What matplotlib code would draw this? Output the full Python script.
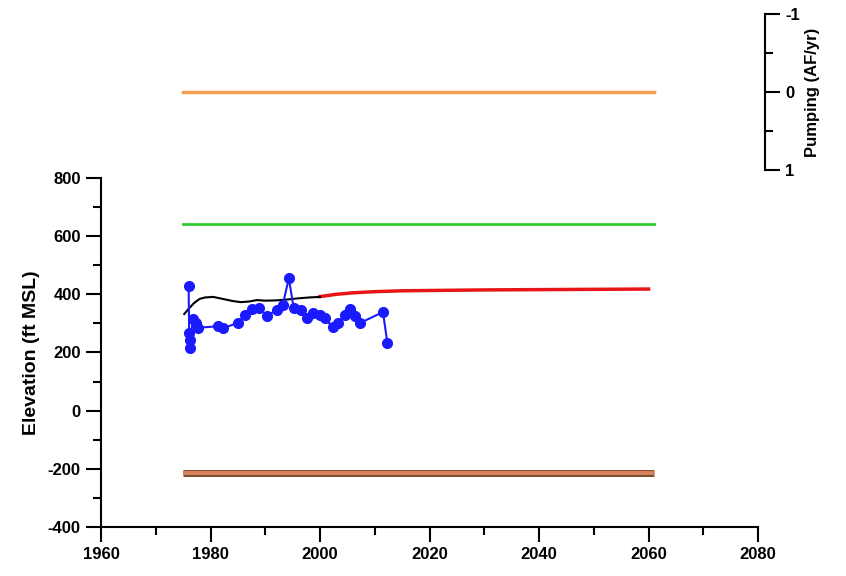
import matplotlib.pyplot as plt
from matplotlib.ticker import MultipleLocator

plt.rcParams['font.family'] = ['Liberation Sans', 'DejaVu Sans']
plt.rcParams['font.weight'] = 'bold'
plt.rcParams['axes.unicode_minus'] = False

# observed water levels (blue)
obs_year = [1976.0, 1976.1, 1976.2, 1976.3, 1976.8, 1977.3, 1977.8, 1981.3, 1982.3,
            1985.0, 1986.3, 1987.5, 1988.8, 1990.3, 1992.1, 1993.2, 1994.3, 1995.2,
            1996.5, 1997.6, 1998.8, 2000.0, 2000.9, 2002.3, 2003.3, 2004.5, 2005.4,
            2006.4, 2007.3, 2011.5, 2012.3]
obs_elev = [430, 268, 215, 244, 315, 300, 285, 290, 284,
            301, 330, 349, 352, 325, 347, 364, 455, 352,
            347, 318, 336, 330, 318, 286, 301, 330, 349,
            324, 301, 339, 233]

# simulated historical (black)
sim_year = [1975.2, 1976, 1977, 1978, 1979, 1980.5, 1982, 1984, 1985.5, 1987, 1988.5,
            1990, 1992, 1994, 1996, 1998, 2000]
sim_elev = [332, 350, 370, 384, 389, 391, 385, 377, 373, 375, 380,
            378, 379, 382, 386, 389, 391]

# projected (red)
proj_year = [2000, 2003, 2006, 2010, 2015, 2020, 2030, 2040, 2050, 2060]
proj_elev = [392, 400, 405, 409, 412, 413, 415, 416, 417, 418]

# reference levels
line_years = [1975, 2061]
green_level = [640, 640]
brown_level = [-215, -215]
pumping = [0, 0]

fig = plt.figure(figsize=(8.46, 5.76), dpi=100)
ax = fig.add_axes([0.1194, 0.0851, 0.7766, 0.606])

ax.plot(line_years, green_level, color='#2ecc2e', lw=2)
ax.plot(line_years, brown_level, color='#7a4a2a', lw=5, solid_capstyle='butt')
ax.plot(line_years, brown_level, color='#d4805a', lw=3, solid_capstyle='butt')
ax.plot(proj_year, proj_elev, color='#e81418', lw=2.5)
ax.plot(sim_year, sim_elev, color='black', lw=1.5)
ax.plot(obs_year, obs_elev, color='#1a1aff', lw=1.5, marker='o', markersize=7)

ax.set_xlim(1960, 2080)
ax.set_ylim(-400, 800)
ax.xaxis.set_major_locator(MultipleLocator(20))
ax.xaxis.set_minor_locator(MultipleLocator(10))
ax.yaxis.set_major_locator(MultipleLocator(200))
ax.yaxis.set_minor_locator(MultipleLocator(100))
ax.tick_params(which='major', direction='out', length=11, width=1.5, labelsize=12)
ax.tick_params(which='minor', direction='out', length=6, width=1.5)
ax.spines['top'].set_visible(False)
ax.spines['right'].set_visible(False)
ax.spines['left'].set_linewidth(1.5)
ax.spines['bottom'].set_linewidth(1.5)
ax.set_ylabel('Elevation (ft MSL)', fontsize=14, fontweight='bold', labelpad=6)

# pumping axis at top
ax2 = fig.add_axes([0.1194, 0.705, 0.7766, 0.2708])
ax2.patch.set_alpha(0)
ax2.plot(line_years, pumping, color='#f5a050', lw=2.5)
ax2.set_xlim(1960, 2080)
ax2.set_ylim(1, -1)
for s in ['top', 'bottom', 'left']:
    ax2.spines[s].set_visible(False)
ax2.spines['right'].set_linewidth(1.5)
ax2.spines['right'].set_position(('outward', 5))
ax2.set_xticks([])
ax2.yaxis.tick_right()
ax2.yaxis.set_label_position('right')
ax2.yaxis.set_major_locator(MultipleLocator(1))
ax2.yaxis.set_minor_locator(MultipleLocator(0.5))
ax2.tick_params(which='major', direction='out', length=11, width=1.5, labelsize=12)
ax2.tick_params(which='minor', direction='out', length=6, width=1.5)
ax2.set_ylabel('Pumping (AF/yr)', fontsize=12, fontweight='bold')

fig.savefig('out.png', dpi=100)
